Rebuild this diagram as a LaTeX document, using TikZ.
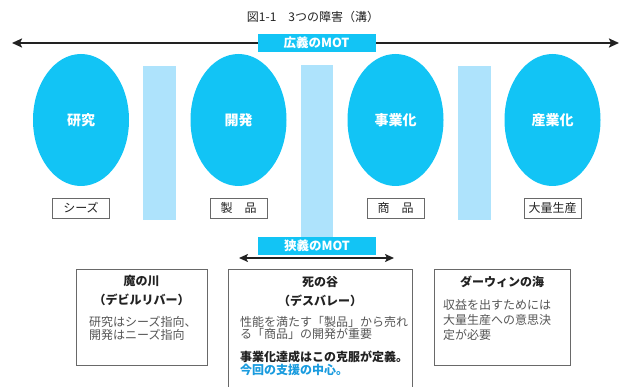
\documentclass[tikz,border=0pt]{standalone}
\usepackage{fontspec}
\setmainfont{Noto Sans CJK JP}
\usetikzlibrary{arrows.meta,shapes.geometric}
\definecolor{cyanB}{RGB}{18,196,245}
\definecolor{barB}{RGB}{174,227,252}
\definecolor{blueT}{RGB}{25,155,222}
\definecolor{darkT}{RGB}{34,34,34}
\definecolor{grayT}{RGB}{85,85,85}
\definecolor{frameC}{RGB}{105,105,105}
\tikzset{
  fs/.style={font=\fontsize{#1}{#1}\selectfont},
  fsb/.style={font=\fontsize{#1}{#1}\selectfont\bfseries},
  blob/.style={ellipse,fill=cyanB,inner sep=0pt,minimum width=96pt,minimum height=132pt,
    text=white,font=\fontsize{14}{14}\selectfont\bfseries},
  tag/.style={draw=frameC,line width=0.8pt,minimum width=57pt,minimum height=20pt,inner sep=0pt,
    text=darkT,font=\fontsize{12}{12}\selectfont},
  motbox/.style={fill=cyanB,minimum width=118pt,minimum height=18pt,inner sep=0pt,
    text=white,font=\fontsize{12.5}{12.5}\selectfont\bfseries},
  bigarrow/.style={draw=darkT,line width=2.4pt,{Stealth[length=10pt,width=9pt,inset=2pt]}-{Stealth[length=10pt,width=9pt,inset=2pt]}},
  smallarrow/.style={draw=darkT,line width=2pt,{Stealth[length=9pt,width=8pt,inset=2pt]}-{Stealth[length=9pt,width=8pt,inset=2pt]}},
  panel/.style={draw=frameC,line width=0.8pt},
  ptitle/.style={inner sep=0pt,text=darkT,font=\fontsize{12}{12}\selectfont\bfseries},
  pbody/.style={inner sep=0pt,text=grayT,align=left,anchor=north west,font=\fontsize{12}{#1}\selectfont},
}
\begin{document}
\begin{tikzpicture}[x=1pt,y=-1pt]
\useasboundingbox (0,0) rectangle (624,387);
% title
\node[inner sep=0pt,text=darkT,fs=12] (title) at (313,17) {図1-1　3つの障害（溝）};
% light bars (gaps)
\fill[barB] (143,66) rectangle (176,220);
\fill[barB] (301,65) rectangle (333,237);
\fill[barB] (458,66) rectangle (491,220);
% top arrow
\coordinate (tl) at (12,43);
\coordinate (tr) at (619,43);
\draw[bigarrow] (tl) -- (tr);
\node[motbox] (wide) at (316.5,43) {広義のMOT};
% ellipses
\node[blob] (e1) at (81,120) {研究};
\node[blob] (e2) at (238.5,120) {開発};
\node[blob] (e3) at (395.5,120) {事業化};
\node[blob] (e4) at (552.5,120) {産業化};
% tags
\node[tag] (t1) at (81,208) {シーズ};
\node[tag] (t2) at (238.5,208) {製　品};
\node[tag] (t3) at (395.5,208) {商　品};
\node[tag] (t4) at (552.5,208) {大量生産};
% narrow MOT
\node[motbox] (narrow) at (317,246) {狭義のMOT};
\coordinate (nl) at (239,258);
\coordinate (nr) at (394,258);
\draw[smallarrow] (nl) -- (nr);
% panels
\draw[panel] (76,269) rectangle (207,365);
\draw[panel] (228,390) -- (228,269) -- (412,269) -- (412,390);
\draw[panel] (434,269) rectangle (570,365);
% left panel text
\node[ptitle] (p1a) at (141.5,281) {魔の川};
\node[ptitle] (p1b) at (141.5,300) {（デビルリバー）};
\node[pbody=13] (p1c) at (89,316) {研究はシーズ指向、\\開発はニーズ指向};
% middle panel text
\node[ptitle] (p2a) at (320,282) {死の谷};
\node[ptitle] (p2b) at (320,301) {（デスバレー）};
\node[pbody=12.5] (p2c) at (240,316) {性能を満たす「製品」から売れ\\る「商品」の開発が重要};
\node[inner sep=0pt,anchor=west,text=darkT,fsb=12] (p2d) at (240,357) {事業化達成はこの克服が定義。};
\node[inner sep=0pt,anchor=west,text=blueT,fsb=12] (p2e) at (240,370) {今回の支援の中心。};
% right panel text
\node[ptitle] (p3a) at (502,282) {ダーウィンの海};
\node[pbody=15] (p3c) at (443,299) {収益を出すためには\\大量生産への意思決\\定が必要};
\end{tikzpicture}
\end{document}
